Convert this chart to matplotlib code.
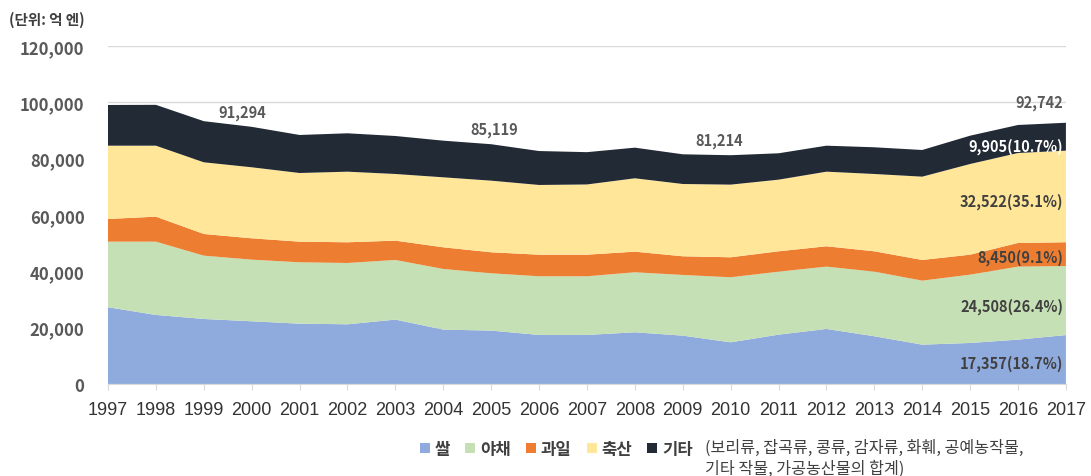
import matplotlib
matplotlib.use("Agg")
import matplotlib.pyplot as plt
from matplotlib.patches import Patch

plt.rcParams['font.family'] = ['Noto Sans CJK KR', 'DejaVu Sans']

# data (억 엔)
years = list(range(1997, 2018))
rice = [27230, 24500, 23070, 22250, 21400, 21180, 22840, 19290, 18940, 17400, 17400,
        18340, 17150, 14780, 17500, 19530, 16930, 13950, 14550, 15730, 17357]
veg = [23290, 26020, 22480, 21880, 21790, 21770, 21180, 21535, 20350, 20830, 20830,
       21310, 21550, 23090, 22370, 22120, 22940, 22730, 24260, 25920, 24508]
fruit = [8055, 8880, 7700, 7580, 7330, 7350, 6860, 7695, 7460, 7670, 7670,
         7320, 6630, 7100, 7230, 7230, 7230, 7340, 7090, 8405, 8450]
livestock = [26025, 25200, 25450, 25220, 24380, 25070, 23670, 24850, 25430, 24750, 24930,
             26050, 25670, 25800, 25430, 26490, 27450, 29580, 32200, 31945, 32522]
other = [14450, 14500, 14600, 14364, 13500, 13630, 13490, 13010, 12939, 12050, 11470,
         10880, 10540, 10444, 9370, 9230, 9480, 9470, 10050, 9950, 9905]
names = ['쌀', '야채', '과일', '축산', '기타']
colors = ['#8FAADC', '#C5E0B4', '#ED7D31', '#FFE699', '#222A35']
total_labels = {2000: '91,294', 2005: '85,119', 2010: '81,214'}

fig = plt.figure(figsize=(10.91, 4.77), dpi=100)
ax = fig.add_axes([0.099, 0.193, 0.878, 0.7085])

ax.stackplot(years, rice, veg, fruit, livestock, other, colors=colors, zorder=2)

totals = [a + b + c + d + e for a, b, c, d, e in zip(rice, veg, fruit, livestock, other)]

ax.set_xlim(1997, 2017)
ax.set_ylim(0, 120000)
ax.set_yticks(range(0, 120001, 20000))
ax.set_yticklabels([f'{v:,}' for v in range(0, 120001, 20000)],
                   fontsize=12, fontweight='bold', color='#595959')
ax.set_xticks(years)
ax.set_xticklabels([str(y) for y in years], fontsize=13, color='#333333',
                   family=['Liberation Sans', 'DejaVu Sans'])
ax.grid(axis='y', color='#D9D9D9', linewidth=1, zorder=0)
ax.set_axisbelow(True)
for s in ['left', 'right', 'top']:
    ax.spines[s].set_visible(False)
ax.spines['bottom'].set_color('#D9D9D9')
ax.tick_params(axis='y', length=0, pad=17)
ax.tick_params(axis='x', length=4, color='#D9D9D9', pad=8)

# total labels (small nudges like the original)
nudge = {2000: -7, 2005: 2, 2010: -8}
for yr, txt in total_labels.items():
    ax.annotate(txt, (yr, totals[years.index(yr)]), xytext=(nudge[yr], 11), textcoords='offset points',
                ha='center', va='center', fontsize=10.5, fontweight='bold', color='#595959')
ax.annotate(f'{totals[-1]:,}', (2017, totals[-1]), xytext=(-2, 15), textcoords='offset points',
            ha='right', va='center', fontsize=10.5, fontweight='bold', color='#595959')

# 2017 segment labels
series = [rice, veg, fruit, livestock, other]
frac = [0.43, 0.426, 0.38, 0.454, 0.18]
txt_colors = ['#404040', '#404040', '#404040', '#404040', 'white']
base = 0
for s, f, col in zip(series, frac, txt_colors):
    v = s[-1]
    pct = v / totals[-1] * 100
    ax.annotate(f'{v:,}({pct:.1f}%)', (2017, base + v * f), xytext=(-2, 0), textcoords='offset points',
                ha='right', va='center', fontsize=10.5, fontweight='bold', color=col)
    base += v

fig.text(0.008, 0.958, '(단위: 억 엔)', fontsize=10.5, fontweight='bold', color='#404040',
         ha='left', va='center')

handles = [Patch(facecolor=c, edgecolor='none') for c in colors]
leg = fig.legend(handles, names, loc='center left', bbox_to_anchor=(0.374, 0.057), ncol=5,
                 frameon=False, handlelength=0.6, handleheight=0.6, handletextpad=0.3,
                 columnspacing=0.9, borderpad=0.2, prop={'size': 12, 'weight': 'bold'})
for t in leg.get_texts():
    t.set_color('#404040')
fig.text(0.646, 0.039, '(보리류, 잡곡류, 콩류, 감자류, 화훼, 공예농작물,\n기타 작물, 가공농산물의 합계)',
         fontsize=11.6, color='#404040', ha='left', va='center', linespacing=1.3)

fig.savefig('out.png', dpi=100)
